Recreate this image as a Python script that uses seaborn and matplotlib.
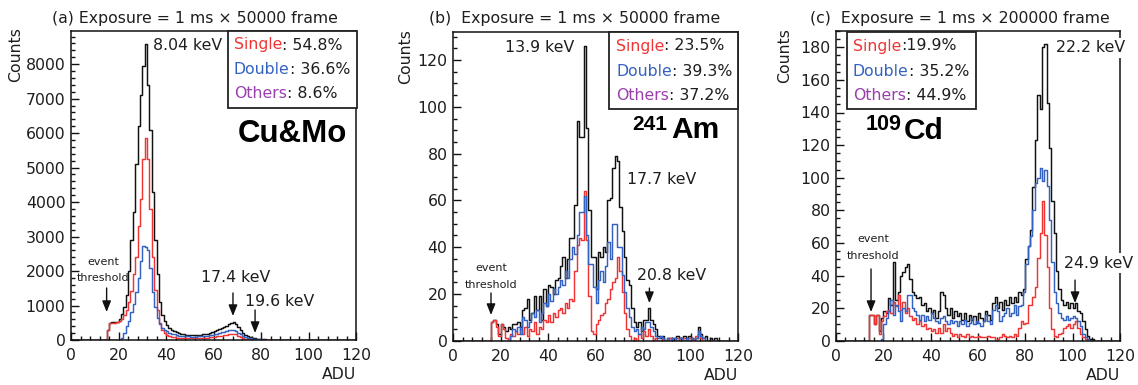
import numpy as np
import pandas as pd
import matplotlib
matplotlib.use("Agg")
import matplotlib.pyplot as plt
from matplotlib.patches import Rectangle
import seaborn as sns

# ------------------------------------------------------------------ data
N_BINS = 120                      # ADU bins of width 1, 0..120
# panel (a) Cu&Mo
A_TOTAL_START = 15
A_TOTAL = [300, 500, 510, 515, 530, 620, 750, 950, 1300, 2000,          # 15-24
           2900, 3700, 5100, 6200, 7100, 7950, 8580, 7400, 6100, 4300,  # 25-34
           2900, 1900, 1100, 720, 540, 430, 350, 290, 250, 220,         # 35-44
           195, 175, 160, 152, 146, 142, 140, 142, 146, 152,            # 45-54
           160, 170, 185, 200, 220, 250, 280, 320, 360, 390,            # 55-64
           420, 460, 500, 510, 470, 380, 280, 200, 150, 115,            # 65-74
           90, 70, 55, 40, 30, 22, 16, 12, 9, 7,                        # 75-84
           5, 4, 3, 2, 2, 1]                                            # 85-90
A_SINGLE_START = 15
A_SINGLE = [300, 480, 500, 505, 520, 560, 620, 720, 880, 1100,          # 15-24
            1420, 1900, 2400, 3300, 4100, 5250, 5850, 5250, 3800, 2400, # 25-34
            1450, 870, 480, 300, 200, 145, 110, 92, 80, 72,             # 35-44
            66, 62, 60, 58, 57, 56, 56, 57, 58, 60,                     # 45-54
            63, 67, 72, 78, 86, 95, 105, 118, 130, 142,                 # 55-64
            155, 168, 180, 185, 160, 115, 75, 48, 32, 22,               # 65-74
            15, 10, 7, 5, 3, 2, 1, 1]                                   # 75-82
A_DOUBLE_START = 21
A_DOUBLE = [60, 200, 400, 550, 800, 1050, 1400, 1800, 2300, 2720,       # 21-30
            2700, 2600, 2100, 1400, 950, 650, 460, 360, 290, 250,       # 31-40
            215, 185, 162, 145, 130, 120, 112, 106, 102, 100,           # 41-50
            100, 101, 103, 106, 110, 116, 124, 134, 148, 165,           # 51-60
            185, 205, 225, 245, 262, 278, 290, 285, 260, 215,           # 61-70
            165, 125, 95, 72, 55, 42, 32, 24, 18, 13,                   # 71-80
            9, 7, 5, 4, 3, 2, 1]                                        # 81-87

# panel (b) 241Am
B_TOTAL_START = 16
B_TOTAL = [8, 9, 7, 3, 7, 6, 4, 6, 5, 7,                  # 16-25
           7, 8, 6, 13, 14, 18, 9, 12, 19, 13,            # 26-35
           19, 9, 22, 15, 24, 23, 20, 26, 27, 32,         # 36-45
           36, 27, 35, 44, 44, 58, 94, 87, 87, 126,       # 46-55
           91, 56, 36, 36, 22, 38, 36, 40, 38, 60,        # 56-65
           61, 74, 79, 77, 57, 47, 36, 26, 24, 14,        # 66-75
           8, 6, 8, 4, 9, 9, 14, 9, 7, 5,                 # 76-85
           2, 1, 2, 0, 1, 1, 0, 1, 2, 1,                  # 86-95
           1, 2, 1, 2, 1, 0, 1, 6, 3, 1,                  # 96-105
           2, 0, 1, 0, 1]                                 # 106-110
B_SINGLE_START = 16
B_SINGLE = [8, 9, 6, 2, 7, 5, 1, 0, 3, 2,                 # 16-25
            4, 3, 5, 3, 6, 2, 5, 4, 8, 3,                 # 26-35
            6, 5, 9, 8, 11, 8, 12, 10, 13, 14,            # 36-45
            12, 16, 14, 18, 17, 30, 41, 44, 43, 64,       # 46-55
            43, 19, 4, 3, 7, 9, 11, 12, 16, 18,           # 56-65
            22, 25, 27, 36, 30, 21, 12, 5, 2, 0,          # 66-75
            1, 0, 3, 1, 4, 2, 5, 2, 0, 1,                 # 76-85
            0, 0, 1, 0, 0, 1, 0, 0, 1, 0,                 # 86-95
            0, 1, 0, 1, 1, 0, 2, 3, 1, 0]                 # 96-105
B_DOUBLE_START = 24
B_DOUBLE = [2, 5, 4, 6, 3, 10, 9, 6, 8, 12,               # 24-33
            10, 13, 8, 12, 16, 15, 20, 17, 22, 20,        # 34-43
            23, 26, 24, 30, 27, 35, 40, 37, 45, 55,       # 44-53
            55, 62, 45, 33, 33, 23, 16, 26, 30, 25,       # 54-63
            32, 42, 35, 50, 50, 40, 40, 28, 21, 14,       # 64-73
            10, 6, 4, 5, 3, 6, 5, 8, 8, 6,                # 74-83
            4, 2, 1, 2, 1, 0, 1, 0, 1, 1,                 # 84-93
            0, 1, 1, 0, 1, 0, 1, 0, 1, 4,                 # 94-103
            2, 1, 0]                                      # 104-106

# panel (c) 109Cd
C_TOTAL_START = 14
C_TOTAL = [16, 16, 10, 16, 6, 14, 18, 17, 26, 22,         # 14-23
           48, 25, 30, 40, 42, 45, 47, 38, 30, 28,        # 24-33
           26, 27, 22, 23, 18, 20, 17, 19, 14, 18,        # 34-43
           30, 28, 20, 16, 20, 14, 18, 15, 17, 13,        # 44-53
           17, 12, 16, 13, 15, 11, 17, 14, 12, 18,        # 54-63
           16, 13, 23, 27, 20, 24, 19, 25, 22, 27,        # 64-73
           23, 27, 24, 30, 28, 32, 50, 58, 68, 94,        # 74-83
           123, 151, 142, 180, 182, 146, 118, 86, 66, 43, # 84-93
           32, 25, 22, 24, 20, 23, 20, 23, 18, 17,        # 94-103
           12, 7, 3, 1, 1]                                # 104-108
C_SINGLE_START = 14
C_SINGLE = [16, 16, 10, 16, 4, 12, 15, 18, 19, 17,        # 14-23
            24, 21, 28, 19, 24, 17, 20, 15, 13, 14,       # 24-33
            10, 12, 9, 10, 7, 8, 6, 7, 5, 8,              # 34-43
            5, 10, 6, 8, 5, 3, 4, 2, 4, 3,                # 44-53
            2, 4, 2, 3, 2, 2, 3, 2, 2, 2,                 # 54-63
            3, 2, 2, 0, 1, 2, 4, 3, 2, 3,                 # 64-73
            2, 4, 3, 8, 12, 10, 11, 22, 22, 27,           # 74-83
            33, 51, 66, 86, 65, 45, 20, 7, 3, 2,          # 84-93
            4, 5, 8, 9, 10, 8, 10, 12, 8, 4,              # 94-103
            2, 1]                                         # 104-105
C_DOUBLE_START = 19
C_DOUBLE = [1, 10, 14, 18, 25, 16, 22, 18, 12, 20,        # 19-28
            18, 28, 28, 20, 18, 16, 13, 16, 12, 15,       # 29-38
            13, 17, 14, 12, 11, 14, 15, 12, 10, 13,       # 39-48
            11, 12, 9, 12, 10, 13, 9, 11, 14, 10,         # 49-58
            12, 11, 9, 12, 16, 12, 10, 19, 22, 18,        # 59-68
            12, 15, 17, 20, 15, 17, 22, 16, 21, 22,       # 69-78
            30, 47, 58, 64, 80, 97, 100, 106, 98, 105,    # 79-88
            95, 74, 48, 30, 23, 17, 14, 13, 15, 13,       # 89-98
            14, 15, 14, 12, 9, 4, 2, 1]                   # 99-106

LEGENDS = {
    "a": [("Single", ": 54.8%"), ("Double", ": 36.6%"), ("Others", ": 8.6%")],
    "b": [("Single", ": 23.5%"), ("Double", ": 39.3%"), ("Others", ": 37.2%")],
    "c": [("Single", ":19.9%"), ("Double", ": 35.2%"), ("Others", ": 44.9%")],
}
TITLES = {"a": "(a) Exposure = 1 ms \u00d7 50000 frame",
          "b": "(b)  Exposure = 1 ms \u00d7 50000 frame",
          "c": "(c)  Exposure = 1 ms \u00d7 200000 frame"}

# ------------------------------------------------------------------ style
sns.set_style("ticks")
plt.rcParams["font.family"] = ["DejaVu Sans"]

W, H = 1138, 385
RED, BLUE, PURPLE, BLACK = "#f03434", "#3462c2", "#9a3fae", "#111111"
TXT = "#1e1e1e"
FS = 11.3


def fx(px):
    return px / W


def fy(py):
    return 1 - py / H


def full(start, vals):
    arr = np.zeros(N_BINS)
    arr[start:start + len(vals)] = vals
    return arr


centers = np.arange(N_BINS) + 0.5

fig = plt.figure(figsize=(W / 100, H / 100), dpi=100)

# axes boxes in pixel coords: left, right, top, bottom
boxes = {"a": (71, 356, 30.7, 340), "b": (453, 738, 32, 340.7), "c": (836, 1120, 31, 340.7)}
ymax = {"a": 8970, "b": 132, "c": 190}
ymaj = {"a": 1000, "b": 20, "c": 20}
ymin_ = {"a": 200, "b": 5, "c": 5}
series = {
    "a": (full(A_TOTAL_START, A_TOTAL), full(A_SINGLE_START, A_SINGLE), full(A_DOUBLE_START, A_DOUBLE)),
    "b": (full(B_TOTAL_START, B_TOTAL), full(B_SINGLE_START, B_SINGLE), full(B_DOUBLE_START, B_DOUBLE)),
    "c": (full(C_TOTAL_START, C_TOTAL), full(C_SINGLE_START, C_SINGLE), full(C_DOUBLE_START, C_DOUBLE)),
}
ylab_x = {"a": 22.7, "b": 413.3, "c": 792}

axes = {}
for key, (l, r, t, b) in boxes.items():
    ax = fig.add_axes([fx(l), fy(b), fx(r) - fx(l), fy(t) - fy(b)])
    axes[key] = ax
    tot, sing, dbl = series[key]
    for vals, col in ((tot, BLACK), (sing, RED), (dbl, BLUE)):
        df = pd.DataFrame({"adu": centers, "counts": vals})
        sns.histplot(data=df, x="adu", weights="counts", binwidth=1, binrange=(0, 120),
                     element="step", fill=False, color=col, linewidth=1.05, ax=ax)
    ax.set_xlim(0, 120)
    ax.set_ylim(0, ymax[key])
    ax.xaxis.set_major_locator(matplotlib.ticker.MultipleLocator(20))
    ax.xaxis.set_minor_locator(matplotlib.ticker.MultipleLocator(4))
    ax.yaxis.set_major_locator(matplotlib.ticker.MultipleLocator(ymaj[key]))
    ax.yaxis.set_minor_locator(matplotlib.ticker.MultipleLocator(ymin_[key]))
    ax.tick_params(which="both", direction="in", top=False, right=False,
                   colors=BLACK, labelcolor=TXT, labelsize=FS, width=1.0)
    ax.tick_params(which="major", length=6)
    ax.tick_params(which="minor", length=3)
    ax.tick_params(axis="y", pad=4)
    ax.tick_params(axis="x", pad=6)
    for sp in ax.spines.values():
        sp.set_visible(True)
        sp.set_linewidth(1.1)
        sp.set_color(BLACK)
    ax.set_xlabel("ADU", loc="right", fontsize=FS, color=TXT)
    ax.xaxis.set_label_coords(1.0, -0.088)
    ax.set_ylabel("Counts", loc="top", fontsize=FS, color=TXT)
    ax.yaxis.set_label_coords((ylab_x[key] - l) / (r - l), 1.01)


def ftext(ax, px, py, s, **kw):
    kw.setdefault("fontsize", FS)
    kw.setdefault("color", TXT)
    kw.setdefault("zorder", 6)
    return ax.text(fx(px), fy(py), s, transform=fig.transFigure, **kw)


def legend(ax, key, x0, x1, y0, y1, tx, ys):
    ax.add_artist(Rectangle((fx(x0), fy(y1)), fx(x1) - fx(x0), fy(y0) - fy(y1),
                            transform=fig.transFigure, facecolor="white",
                            edgecolor="#222222", linewidth=1.3, zorder=5, clip_on=False))
    for (lab, val), col, yy in zip(LEGENDS[key], (RED, BLUE, PURPLE), ys):
        t1 = ftext(ax, tx, yy, lab, color=col, ha="left", va="center")
        ax.annotate(val, xy=(1, 0), xycoords=t1, ha="left", va="bottom",
                    fontsize=FS, color=TXT, zorder=6, annotation_clip=False)


def arrow(ax, x, y0, y1):
    ax.annotate("", xy=(x, y1), xytext=(x, y0), xycoords="data",
                arrowprops=dict(arrowstyle="-|>,head_length=0.55,head_width=0.22",
                                color=BLACK, lw=1.0, shrinkA=0, shrinkB=0,
                                mutation_scale=12), zorder=6, annotation_clip=False)


BOLD = dict(family=["Liberation Sans", "DejaVu Sans"], fontweight="bold", color="black")

# ---- panel (a)
ax = axes["a"]
ftext(ax, 52, 18, TITLES["a"], ha="left", va="center")
ftext(ax, 152.7, 45, "8.04 keV", ha="left", va="center")
legend(ax, "a", 227.7, 356.7, 30.7, 107.7, 234, (45, 69, 93))
ftext(ax, 238, 141.5, "Cu&Mo", ha="left", va="baseline", fontsize=22.5, **BOLD)
ftext(ax, 103, 262, "event", ha="center", va="center", fontsize=8)
ftext(ax, 103, 278, "threshold", ha="center", va="center", fontsize=8)
arrow(ax, 15, 1508, 812)
ftext(ax, 236, 277, "17.4 keV", ha="center", va="center")
arrow(ax, 68.2, 1363, 696)
ftext(ax, 245, 302, "19.6 keV", ha="left", va="center")
arrow(ax, 77.5, 870, 203)

# ---- panel (b)
ax = axes["b"]
ftext(ax, 429, 18, TITLES["b"], ha="left", va="center")
ftext(ax, 505, 48, "13.9 keV", ha="left", va="center")
legend(ax, "b", 609, 738, 32, 109, 616, (46, 71, 95))
ftext(ax, 632, 129.5, "241", ha="left", va="baseline", fontsize=15, **BOLD)
ftext(ax, 671, 137.7, "Am", ha="left", va="baseline", fontsize=21.5, **BOLD)
ftext(ax, 627, 180, "17.7 keV", ha="left", va="center")
ftext(ax, 637, 276, "20.8 keV", ha="left", va="center")
arrow(ax, 82.7, 22.5, 16.1)
ftext(ax, 491, 268, "event", ha="center", va="center", fontsize=8)
ftext(ax, 491, 285, "threshold", ha="center", va="center", fontsize=8)
arrow(ax, 16, 20.4, 11)

# ---- panel (c)
ax = axes["c"]
ftext(ax, 810, 18, TITLES["c"], ha="left", va="center")
legend(ax, "c", 847, 976, 32, 109, 853, (46, 71, 95))
ftext(ax, 866, 129.5, "109", ha="left", va="baseline", fontsize=15.5, **BOLD)
ftext(ax, 904, 139, "Cd", ha="left", va="baseline", fontsize=21.5, **BOLD)
ftext(ax, 1056, 48, "22.2 keV", ha="left", va="center",
      bbox=dict(facecolor="white", edgecolor="none", pad=1.5))
ftext(ax, 1064, 263, "24.9 keV", ha="left", va="center",
      bbox=dict(facecolor="white", edgecolor="none", pad=1.5))
arrow(ax, 101, 37.2, 23.1)
ftext(ax, 873, 239, "event", ha="center", va="center", fontsize=8)
ftext(ax, 873, 256, "threshold", ha="center", va="center", fontsize=8)
arrow(ax, 14.8, 44, 17.6)

fig.savefig("out.png", dpi=100)
